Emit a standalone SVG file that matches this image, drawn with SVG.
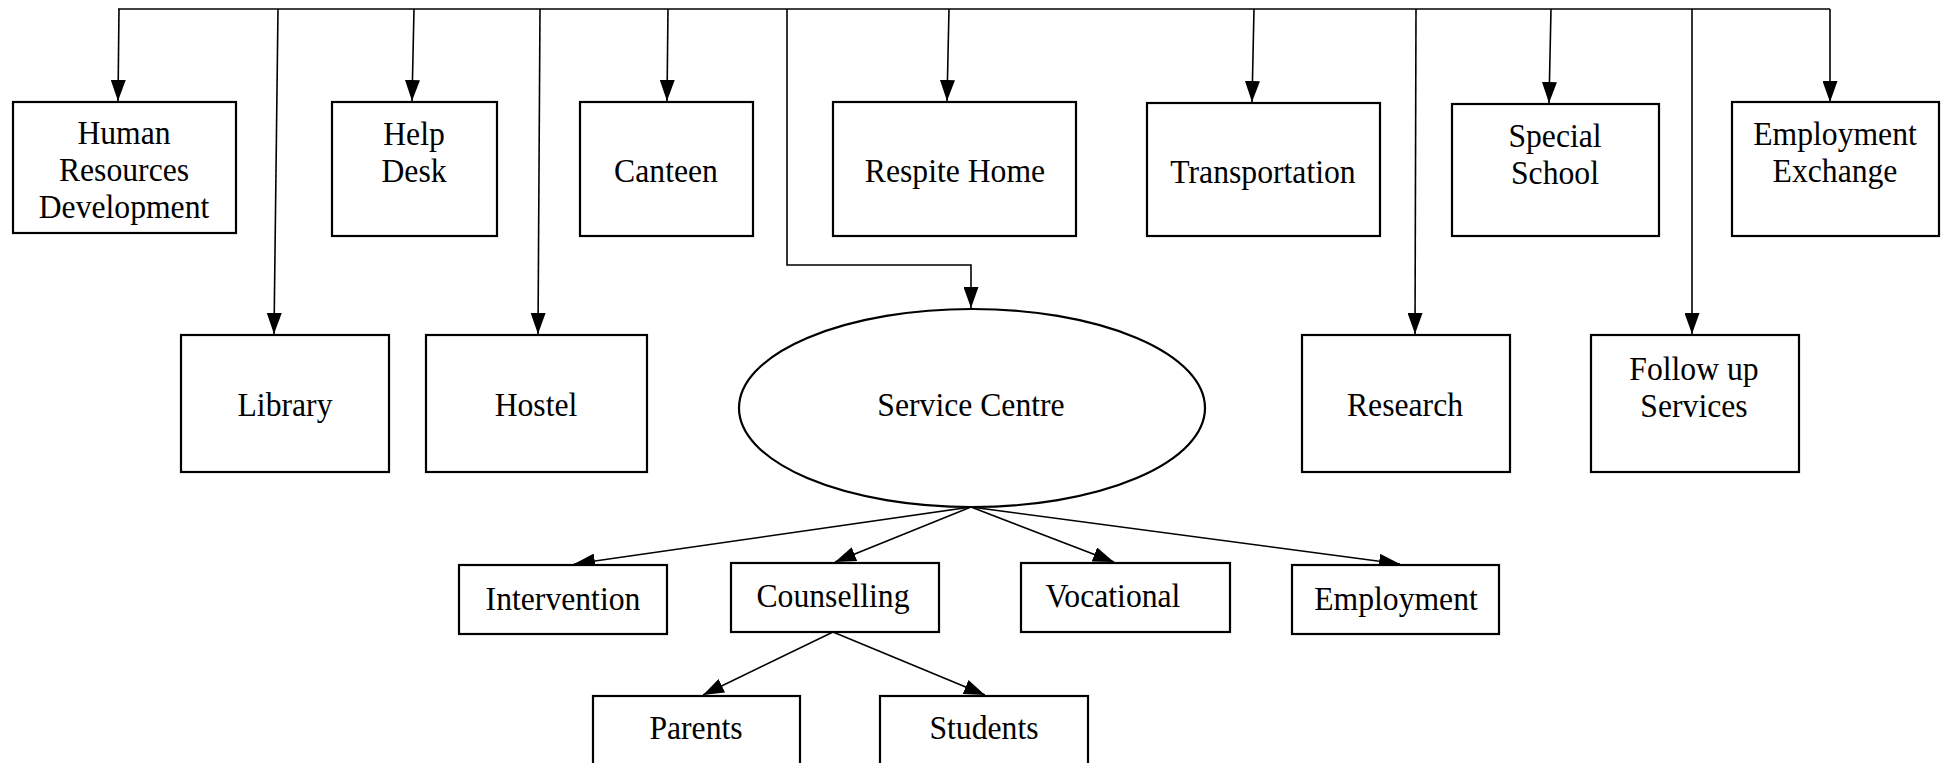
<svg xmlns="http://www.w3.org/2000/svg" width="1948" height="763" viewBox="0 0 1948 763">
<defs>
<style>
.box{fill:#fff;stroke:#000;stroke-width:2.2}
.ln{fill:none;stroke:#000;stroke-width:1.6}
.t{font-family:"Liberation Serif","Times New Roman",serif;font-size:33px;fill:#000;text-anchor:middle;transform-box:fill-box;transform-origin:center;transform:scale(0.96,1.05)}
</style>
<marker id="ah" markerUnits="userSpaceOnUse" markerWidth="21" markerHeight="15" viewBox="0 0 21 15" refX="21" refY="7.5" orient="auto">
<path d="M0,0 L21,7.5 L0,15 Z" fill="#000"/>
</marker>
</defs>
<rect width="1948" height="763" fill="#fff"/>
<g id="connectors">
<path class="ln" d="M118,9 H1830"/>
<path class="ln" d="M119,9 L118,101" marker-end="url(#ah)"/>
<path class="ln" d="M278,9 L274,334" marker-end="url(#ah)"/>
<path class="ln" d="M414,9 L412,101" marker-end="url(#ah)"/>
<path class="ln" d="M540,9 L538,334" marker-end="url(#ah)"/>
<path class="ln" d="M668,9 L667,101" marker-end="url(#ah)"/>
<path class="ln" d="M787,9 V265 H971 V308" marker-end="url(#ah)"/>
<path class="ln" d="M949,9 L947,101" marker-end="url(#ah)"/>
<path class="ln" d="M1254,9 L1252,102" marker-end="url(#ah)"/>
<path class="ln" d="M1416,9 L1415,334" marker-end="url(#ah)"/>
<path class="ln" d="M1551,9 L1549,103" marker-end="url(#ah)"/>
<path class="ln" d="M1692,9 L1692,334" marker-end="url(#ah)"/>
<path class="ln" d="M1830,9 L1830,102" marker-end="url(#ah)"/>
<path class="ln" d="M971,507 L574,564" marker-end="url(#ah)"/>
<path class="ln" d="M971,507 L835,562" marker-end="url(#ah)"/>
<path class="ln" d="M971,507 L1114,562" marker-end="url(#ah)"/>
<path class="ln" d="M971,507 L1400,564" marker-end="url(#ah)"/>
<path class="ln" d="M833,632 L703,695" marker-end="url(#ah)"/>
<path class="ln" d="M833,632 L985,695" marker-end="url(#ah)"/>
</g>
<g id="hrd"><rect class="box" x="13" y="102" width="223" height="131"/>
<text class="t" x="124" y="143">Human</text><text class="t" x="124" y="180">Resources</text><text class="t" x="124" y="217">Development</text></g>
<g id="helpdesk"><rect class="box" x="332" y="102" width="165" height="134"/>
<text class="t" x="414" y="144">Help</text><text class="t" x="414" y="181">Desk</text></g>
<g id="canteen"><rect class="box" x="580" y="102" width="173" height="134"/>
<text class="t" x="666" y="181">Canteen</text></g>
<g id="respite"><rect class="box" x="833" y="102" width="243" height="134"/>
<text class="t" x="955" y="181">Respite Home</text></g>
<g id="transport"><rect class="box" x="1147" y="103" width="233" height="133"/>
<text class="t" x="1263" y="182">Transportation</text></g>
<g id="specialschool"><rect class="box" x="1452" y="104" width="207" height="132"/>
<text class="t" x="1555" y="146">Special</text><text class="t" x="1555" y="183">School</text></g>
<g id="empexchange"><rect class="box" x="1732" y="102" width="207" height="134"/>
<text class="t" x="1835" y="144">Employment</text><text class="t" x="1835" y="181">Exchange</text></g>
<g id="library"><rect class="box" x="181" y="335" width="208" height="137"/>
<text class="t" x="285" y="415">Library</text></g>
<g id="hostel"><rect class="box" x="426" y="335" width="221" height="137"/>
<text class="t" x="536" y="415">Hostel</text></g>
<g id="servicecentre"><ellipse class="box" cx="972" cy="408" rx="233" ry="99"/>
<text class="t" x="971" y="415">Service Centre</text></g>
<g id="research"><rect class="box" x="1302" y="335" width="208" height="137"/>
<text class="t" x="1405" y="415">Research</text></g>
<g id="followup"><rect class="box" x="1591" y="335" width="208" height="137"/>
<text class="t" x="1694" y="379">Follow up</text><text class="t" x="1694" y="416">Services</text></g>
<g id="intervention"><rect class="box" x="459" y="565" width="208" height="69"/>
<text class="t" x="563" y="609">Intervention</text></g>
<g id="counselling"><rect class="box" x="731" y="563" width="208" height="69"/>
<text class="t" x="833" y="606">Counselling</text></g>
<g id="vocational"><rect class="box" x="1021" y="563" width="209" height="69"/>
<text class="t" x="1113" y="606">Vocational</text></g>
<g id="employment"><rect class="box" x="1292" y="565" width="207" height="69"/>
<text class="t" x="1396" y="609">Employment</text></g>
<g id="parents"><rect class="box" x="593" y="696" width="207" height="80"/>
<text class="t" x="696" y="738">Parents</text></g>
<g id="students"><rect class="box" x="880" y="696" width="208" height="80"/>
<text class="t" x="984" y="738">Students</text></g>
</svg>
